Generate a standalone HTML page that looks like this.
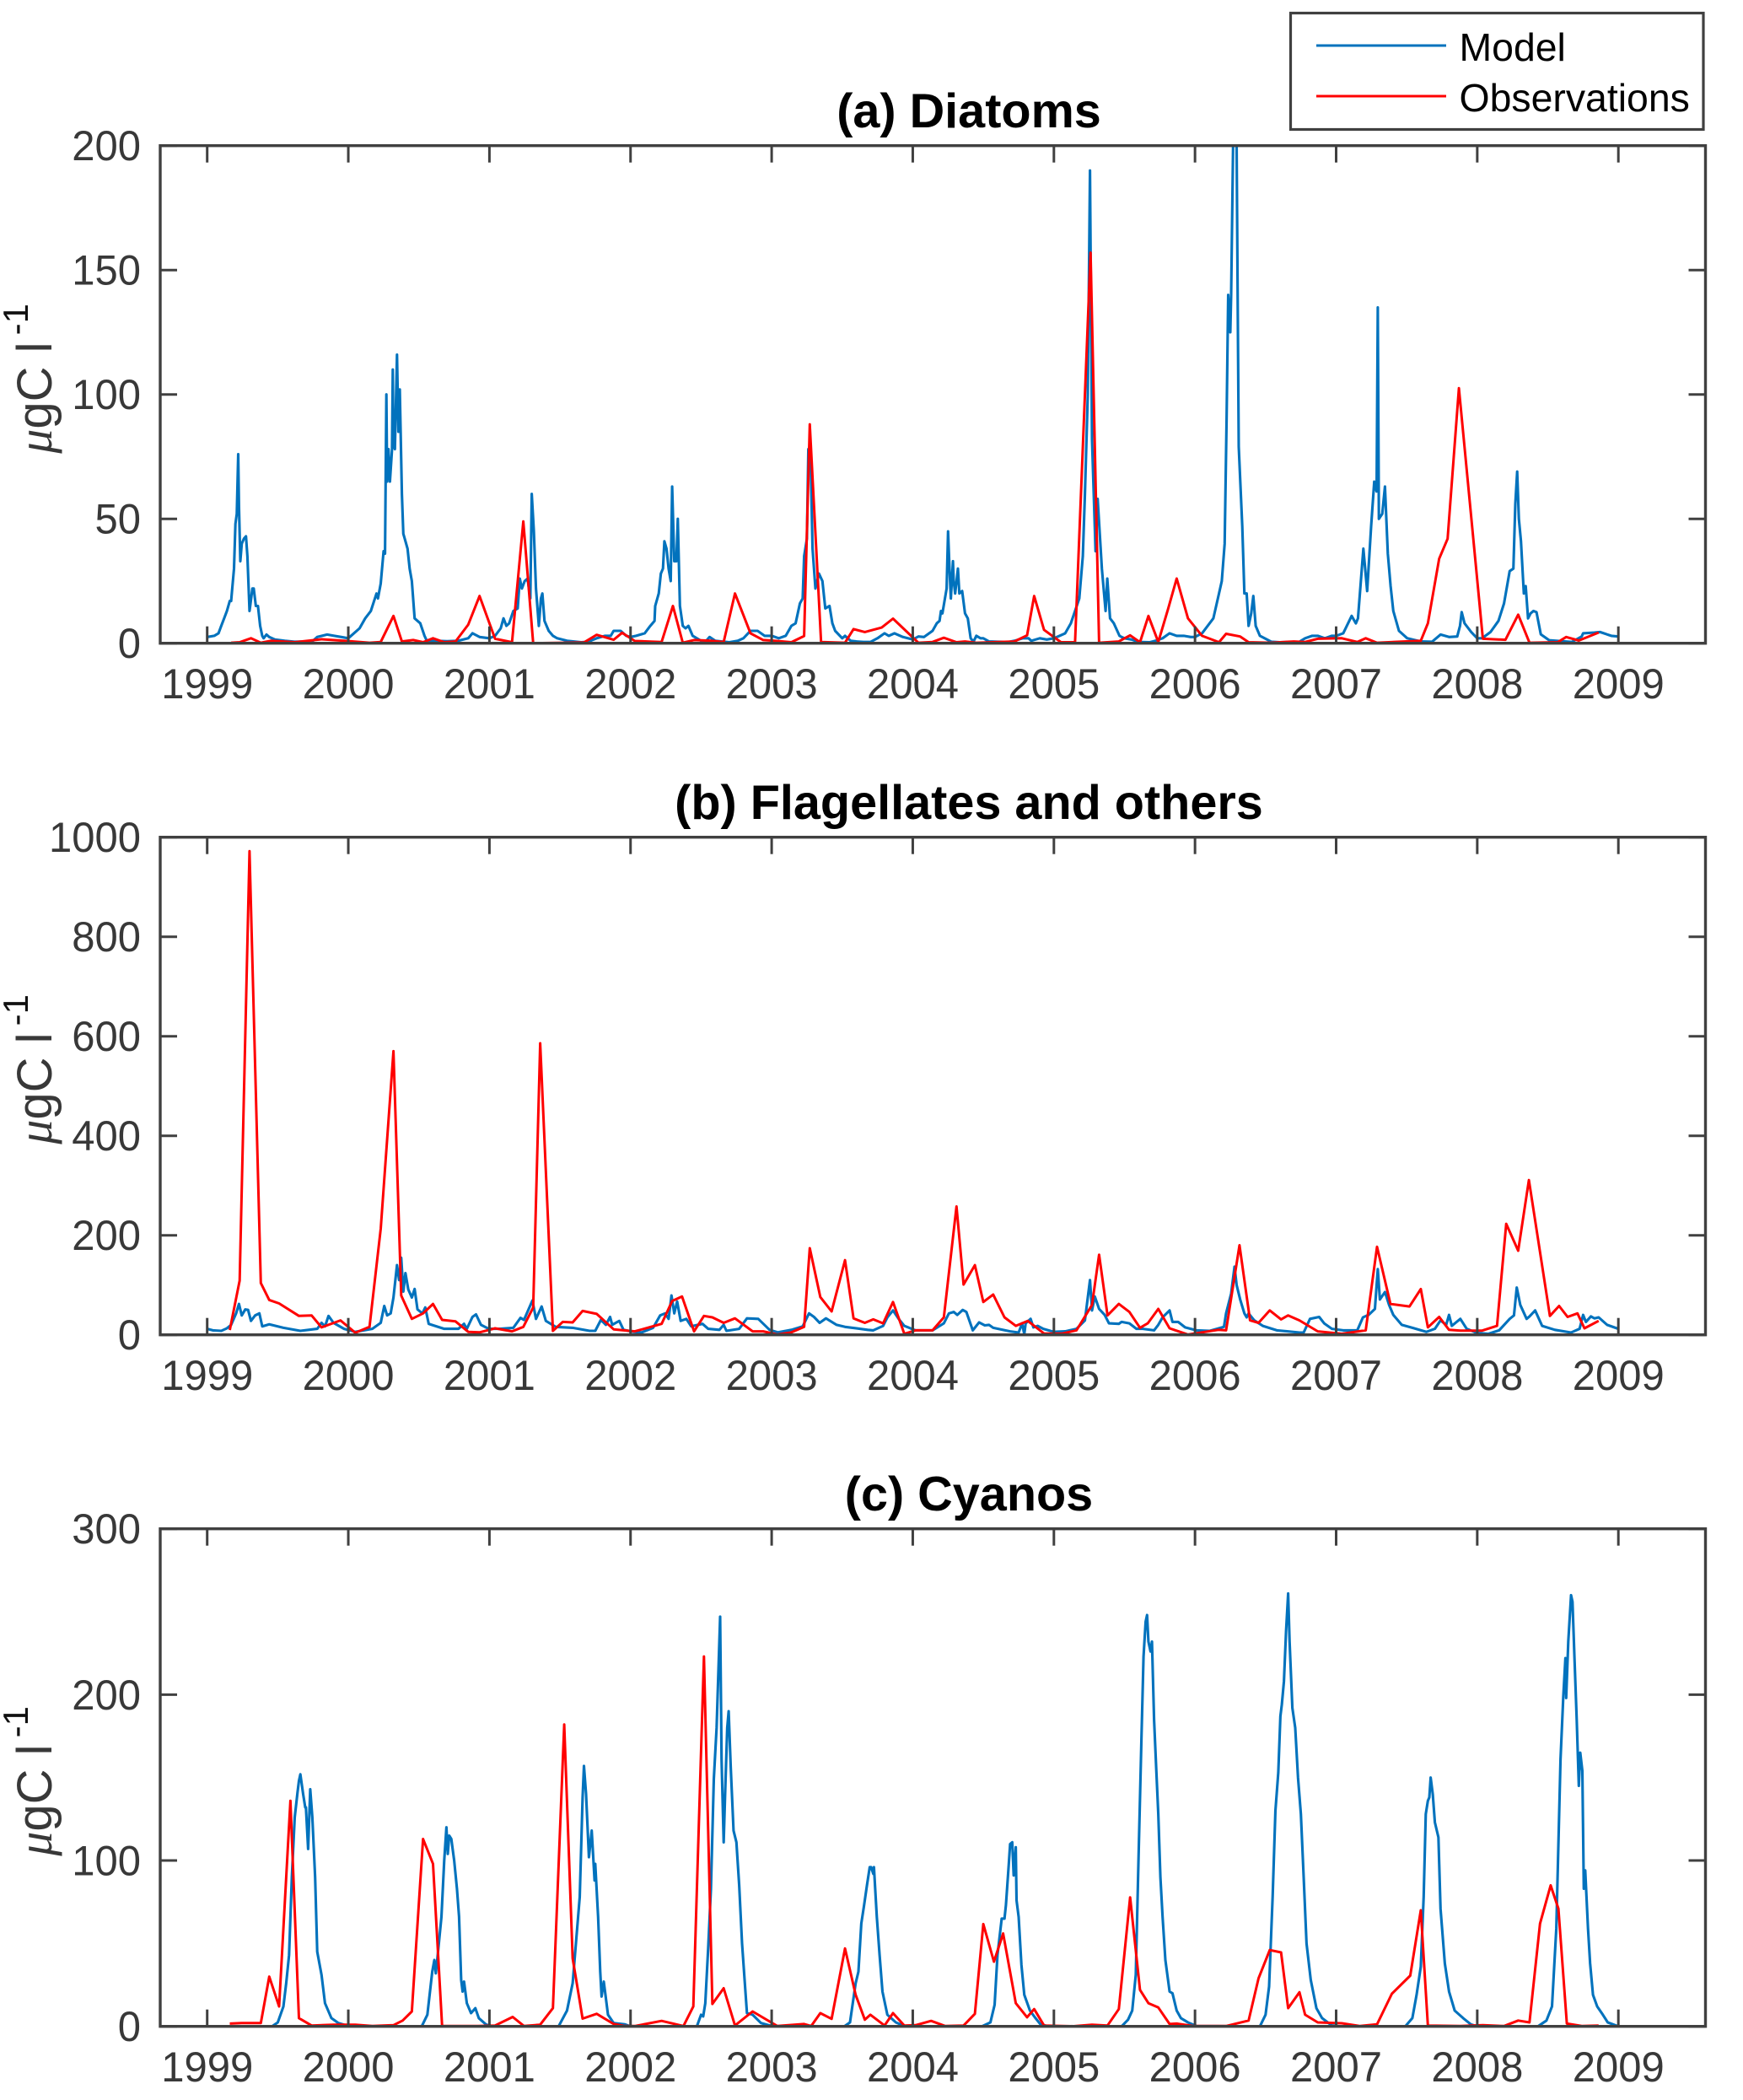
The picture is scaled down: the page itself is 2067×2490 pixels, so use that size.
<!DOCTYPE html>
<html lang="en">
<head>
<meta charset="utf-8">
<title>Diatoms, Flagellates and Cyanos: model vs observations</title>
<style>
html,body{margin:0;padding:0;background:#fff;}
svg{display:block;font-family:"Liberation Sans",Arial,sans-serif;}
</style>
</head>
<body>
<svg id="figure" xmlns="http://www.w3.org/2000/svg" width="2067" height="2490" viewBox="0 0 2067 2490"></svg>
<script>
const yearTicks = [1999,2000,2001,2002,2003,2004,2005,2006,2007,2008,2009];
const diatomsYTicks = [0,50,100,150,200];
const flagellatesYTicks = [0,200,400,600,800,1000];
const cyanosYTicks = [0,100,200,300];

const diatomsModelT = [
1999,1999.05,1999.08,1999.10,1999.12,1999.14,1999.16,1999.17,1999.19,1999.20,1999.21,1999.22,1999.225,1999.235,1999.245,1999.26,1999.275,1999.285,1999.30,1999.305,1999.32,1999.33,1999.345,1999.36,1999.375,1999.39,1999.40,1999.42,1999.44,1999.48,1999.55,1999.62,1999.70,1999.75,1999.78,1999.85,1999.90,1999.95,
2000,2000.04,2000.08,2000.12,2000.16,2000.20,2000.21,2000.23,2000.25,2000.26,2000.27,2000.275,2000.285,2000.295,2000.31,2000.315,2000.32,2000.33,2000.345,2000.355,2000.365,2000.38,2000.39,2000.40,2000.42,2000.435,2000.45,2000.47,2000.49,2000.51,2000.54,2000.56,2000.58,2000.62,2000.70,2000.78,2000.85,2000.88,2000.93,
2001,2001.04,2001.08,2001.10,2001.12,2001.14,2001.17,2001.20,2001.215,2001.23,2001.25,2001.27,2001.29,2001.30,2001.315,2001.33,2001.35,2001.365,2001.375,2001.39,2001.42,2001.45,2001.48,2001.55,2001.65,2001.70,2001.76,2001.82,2001.86,2001.88,2001.93,2001.97,
2002,2002.04,2002.10,2002.14,2002.17,2002.175,2002.20,2002.215,2002.23,2002.24,2002.255,2002.27,2002.285,2002.295,2002.31,2002.325,2002.335,2002.35,2002.37,2002.39,2002.41,2002.44,2002.47,2002.50,2002.53,2002.56,2002.60,2002.70,2002.76,2002.80,2002.85,2002.90,2002.95,
2003,2003.05,2003.10,2003.14,2003.17,2003.20,2003.22,2003.23,2003.25,2003.26,2003.275,2003.29,2003.31,2003.335,2003.36,2003.38,2003.41,2003.43,2003.45,2003.50,2003.52,2003.56,2003.60,2003.65,2003.70,2003.75,2003.80,2003.83,2003.87,2003.93,
2004,2004.04,2004.08,2004.14,2004.17,2004.19,2004.20,2004.21,2004.24,2004.25,2004.26,2004.27,2004.285,2004.29,2004.30,2004.32,2004.33,2004.35,2004.37,2004.39,2004.41,2004.43,2004.45,2004.48,2004.50,2004.54,2004.60,2004.68,2004.72,2004.75,2004.78,2004.82,2004.84,2004.90,2004.95,
2005,2005.04,2005.08,2005.12,2005.15,2005.18,2005.205,2005.22,2005.24,2005.256,2005.27,2005.295,2005.31,2005.34,2005.366,2005.378,2005.398,2005.425,2005.465,2005.48,2005.50,2005.55,2005.60,2005.68,2005.72,2005.77,2005.82,2005.87,2005.92,2005.97,
2006,2006.05,2006.09,2006.13,2006.17,2006.19,2006.21,2006.224,2006.235,2006.25,2006.256,2006.27,2006.283,2006.295,2006.303,2006.31,2006.335,2006.35,2006.366,2006.38,2006.398,2006.413,2006.43,2006.46,2006.54,2006.60,2006.66,2006.74,2006.78,2006.83,2006.87,2006.92,2006.97,
2007,2007.05,2007.11,2007.14,2007.155,2007.193,2007.22,2007.248,2007.27,2007.287,2007.295,2007.303,2007.327,2007.346,2007.366,2007.386,2007.405,2007.445,2007.504,2007.60,2007.68,2007.74,2007.80,2007.858,2007.878,2007.89,2007.91,2007.957,
2008,2008.035,2008.094,2008.15,2008.19,2008.23,2008.256,2008.27,2008.283,2008.295,2008.31,2008.33,2008.343,2008.36,2008.378,2008.398,2008.42,2008.45,2008.51,2008.67,2008.74,2008.75,2008.83,2008.87,2008.95,2009
];
const diatomsModelV = [
2.5,3,4,7,10,13,17,17,30,48,52,76,55,33,40,42,43,35,13,15,22,22,15,15,7,3,2,3.5,2.5,1.5,1,.6,.7,1,2.5,3.5,3,2.5,
2,4,6,10,13,20,18,24,37,36,100,65,78,65,78,110,80,78,116,85,102,60,44,42,38,30,25,10,9,8,3,.5,1,1,.8,1,2,4,2.5,
2,3,6,10,7,8,13,14,26,22,25,26,18,60,45,22,7,18,20,9,5,3,2,1,.4,.6,2,3,3,5,5,3,
2.5,3,4,7,9,15,20,28,30,41,38,30,25,63,33,33,50,15,7,6,7,3,2,1,.5,2.5,1,.4,1,2,5,5,3,
3,2,3,7,8,16,18,35,42,78,78,38,22,28,25,14,15,8,5,2,3,1,.7,.5,.5,2,4,3,4,2.5,
1.5,2.7,2.5,5,8,9,13,12,22,45,30,18,33,25,20,30,20,21,12,10,2,.6,3,2,2,.7,.6,.5,1,1.5,2,2,1,2,1.5,
2,3,4,8,13,18,35,60,100,190,82,37,58,30,13,26,10,8,3,2.5,2,1.5,.5,.4,1,2,4,3,3,2.5,
2.5,4,7,10,20,25,40,90,140,125,140,200,225,200,131,79,47,20,20,7,12,19,7,3,.6,.4,.5,.6,2,3,3,2,3,
3,4,11,8,10,38,21,47,65,61,135,50,52,63,36,23,13,5,2,.7,.6,3.5,2.5,2.7,7,12.5,8,4.5,
2,2,4.5,9,16,29,30,56,69,50,41,20,23,10,12,13,12.5,3.6,1.2,.5,2.7,4,4.3,4.5,3,2.7
];
const diatomsObsT = [
1999.17,1999.23,1999.31,1999.38,1999.45,1999.62,1999.81,1999.97,2000.15,2000.23,2000.32,2000.38,2000.46,2000.53,2000.60,2000.68,2000.76,2000.85,2000.93,2001.04,2001.16,2001.24,2001.31,2001.67,2001.76,2001.88,2001.94,2002.03,2002.22,2002.30,2002.37,2002.45,2002.57,2002.66,2002.74,2002.85,2002.94,2003.02,2003.14,2003.23,2003.27,2003.35,2003.52,2003.58,2003.66,2003.78,2003.86,
2004.04,2004.14,2004.22,2004.31,2004.37,2004.45,2004.72,2004.81,2004.86,2004.93,2005.05,2005.15,2005.26,2005.32,2005.46,2005.54,2005.61,2005.67,2005.74,2005.81,2005.87,2005.95,2006.05,2006.17,2006.22,2006.32,2006.38,2006.54,2006.70,2006.78,2006.87,2007.04,2007.15,2007.21,2007.29,2007.60,2007.65,2007.73,2007.79,2007.87,2008.04,2008.20,2008.29,2008.37,2008.57,2008.63,2008.72,2008.86
];
const diatomsObsV = [
.2,.4,2,.2,1,.4,1.6,1,.2,.5,11,.7,1.3,.4,2,.4,.7,7.5,19,1.8,.4,49,0,.3,3.4,1.4,4.2,.9,.5,15,.2,1.3,1,.5,20,4,1.3,1,.4,2.9,88,.5,.2,5.7,4.5,6.3,9.9,
.2,.5,2.2,.4,.7,.2,.7,3.2,19,5.4,.4,.4,157,.2,.7,3.2,.4,11,.5,14,26,10,3,.4,3.8,2.7,.4,.2,.7,.5,1.8,2,.5,2,.2,1,8,34,42,102.5,1.8,1.4,11.5,.2,.4,2.5,1.1,4.3
];

const flagellatesModelT = [
1999,1999.04,1999.10,1999.14,1999.17,1999.205,1999.225,1999.245,1999.27,1999.29,1999.31,1999.34,1999.37,1999.39,1999.44,1999.54,1999.66,1999.78,1999.81,1999.835,1999.86,1999.895,1999.97,
2000.05,2000.17,2000.23,2000.255,2000.275,2000.30,2000.32,2000.345,2000.36,2000.375,2000.39,2000.405,2000.425,2000.45,2000.47,2000.49,2000.525,2000.545,2000.57,2000.68,2000.78,2000.82,2000.84,2000.88,2000.905,2000.94,2000.995,
2001.075,2001.17,2001.22,2001.245,2001.305,2001.33,2001.37,2001.40,2001.47,2001.59,2001.71,2001.75,2001.79,2001.825,2001.855,2001.87,2001.92,2001.95,2002.02,
2002.08,2002.16,2002.21,2002.245,2002.27,2002.29,2002.31,2002.33,2002.355,2002.395,2002.43,2002.51,2002.55,2002.63,2002.66,2002.68,2002.77,2002.825,2002.905,2002.985,
2003.045,2003.14,2003.22,2003.265,2003.30,2003.34,2003.385,2003.46,2003.52,2003.68,2003.72,2003.79,2003.82,2003.86,2003.90,2003.94,
2004.02,2004.14,2004.22,2004.256,2004.29,2004.315,2004.354,2004.38,2004.425,2004.47,2004.51,2004.54,2004.57,2004.69,2004.75,2004.775,2004.79,2004.80,2004.835,2004.855,2004.885,2004.925,2005.0,
2005.08,2005.16,2005.22,2005.256,2005.27,2005.29,2005.32,2005.36,2005.39,2005.46,2005.48,2005.535,2005.585,2005.63,2005.71,2005.74,2005.77,2005.82,2005.84,2005.88,2005.93,2006.01,
2006.105,2006.205,2006.22,2006.256,2006.28,2006.295,2006.32,2006.35,2006.366,2006.38,2006.42,2006.48,2006.58,2006.74,2006.77,2006.815,2006.88,2006.915,2006.97,2007.05,
2007.15,2007.19,2007.23,2007.275,2007.295,2007.31,2007.346,2007.375,2007.405,2007.465,2007.54,2007.64,2007.70,2007.74,2007.78,2007.80,2007.82,2007.88,2007.925,2008.0,
2008.08,2008.155,2008.23,2008.26,2008.28,2008.305,2008.35,2008.37,2008.41,2008.46,2008.55,2008.665,2008.725,2008.75,2008.77,2008.805,2008.83,2008.86,2008.92,2009
];
const flagellatesModelV = [
12,9,8,13,20,43,62,39,51,50,28,39,43,17,21,14,8,12,24,17,38,24,12,
6,12,24,58,39,43,75,140,110,155,87,124,91,75,92,51,43,55,22,12,12,22,12,36,41,20,12,
12,14,34,30,69,32,57,28,16,14,8,8,30,20,36,20,28,10,6,
5,14,39,43,32,79,43,67,28,32,17,22,12,10,20,8,12,33,32,10,
5,10,17,43,36,24,33,20,16,10,9,18,35,49,32,18,
9,9,23,43,46,40,50,46,9,25,19,20,14,7,4.5,23,1,23,32,15,18,12,6,
7,12,29,110,49,77,52,40,23,22,26,23,12,12,9,20,35,49,26,26,15,9,
8,16,43,83,137,100,71,43,35,43,29,18,9,4.5,4.5,32,36,23,12,9,
9,35,40,52,132,71,86,60,40,20,14,6,12,29,20,40,18,32,12,3.5,
2,9,32,39,95,60,32,37,49,18,10,4.5,12,40,26,37,33,35,20,12
];
const flagellatesObsT = [
1999.16,1999.23,1999.30,1999.38,1999.44,1999.51,1999.65,1999.74,1999.81,1999.945,2000.05,2000.15,2000.23,2000.32,2000.375,2000.45,2000.53,2000.60,2000.665,2000.76,2000.85,2000.93,2001.04,2001.16,2001.24,2001.31,2001.36,2001.45,2001.52,2001.59,2001.66,2001.76,2001.88,2002.03,2002.22,2002.295,2002.365,2002.45,2002.52,2002.58,2002.66,2002.74,2002.865,2002.94,2003.04,2003.14,2003.23,2003.27,2003.345,2003.425,2003.52,2003.58,2003.66,
2003.72,2003.79,2003.86,2003.94,2004.02,2004.14,2004.22,2004.31,2004.36,2004.44,2004.50,2004.57,2004.65,2004.73,2004.815,2004.93,2005.06,2005.16,2005.27,2005.32,2005.38,2005.46,2005.535,2005.61,2005.665,2005.74,2005.82,2005.95,2006.165,2006.22,2006.315,2006.39,2006.45,2006.53,2006.61,2006.66,2006.74,2006.87,2007.04,2007.21,2007.29,2007.385,2007.52,2007.60,2007.65,2007.73,2007.80,2007.88,2008.035,2008.14,2008.205,2008.29,2008.366,2008.515,2008.58,2008.64,2008.71,2008.76,2008.86
];
const flagellatesObsV = [
9.5,109,972,104,70,63,38,39,15,29,4,16,213,570,79,32,43,62,30,27,6,5,13,7,16,55,586,8,26,25,48,42,11,7,22,68,77,7,38,35,24,33,7,7,.5,5,16,174,76,47,150,33,24,
31,23,66,2,9,9,35,258,101,140,66,81,35,18,28,2.5,2.5,9,60,161,39,62,46,14,23,52,13,.5,10,9,180,29,24,49,31,39,29,7,2,9,177,62,57,92,15,36,10,8.5,8.5,18,223,169,311,38,58,36,43,13,28
];

const cyanosModelT = [
1999,1999.46,1999.50,1999.54,1999.56,1999.58,1999.60,1999.62,1999.64,1999.65,1999.66,1999.68,1999.695,1999.70,1999.715,1999.73,1999.745,1999.765,1999.78,1999.81,1999.835,1999.88,1999.93,1999.99,
2000.21,2000.52,2000.56,2000.595,2000.61,2000.62,2000.63,2000.66,2000.68,2000.695,2000.705,2000.715,2000.73,2000.75,2000.77,2000.785,2000.80,2000.81,2000.82,2000.84,2000.87,2000.90,2000.925,2000.975,2001.015,
2001.49,2001.55,2001.59,2001.615,2001.64,2001.66,2001.67,2001.685,2001.705,2001.725,2001.745,2001.75,2001.77,2001.785,2001.795,2001.81,2001.84,2001.88,2001.96,2002.0,
2002.47,2002.50,2002.515,2002.53,2002.55,2002.57,2002.59,2002.61,2002.635,2002.645,2002.66,2002.67,2002.685,2002.695,2002.71,2002.73,2002.75,2002.77,2002.79,2002.81,2002.825,2002.865,2002.925,2003.0,
2003.515,2003.555,2003.595,2003.615,2003.635,2003.655,2003.675,2003.695,2003.705,2003.72,2003.725,2003.745,2003.765,2003.785,2003.82,2003.88,2003.94,2003.98,
2004.49,2004.55,2004.58,2004.60,2004.63,2004.65,2004.66,2004.68,2004.69,2004.705,2004.715,2004.73,2004.735,2004.75,2004.77,2004.79,2004.83,2004.87,2004.905,2004.965,
2005.48,2005.525,2005.555,2005.58,2005.60,2005.62,2005.635,2005.65,2005.66,2005.67,2005.685,2005.695,2005.71,2005.725,2005.74,2005.755,2005.77,2005.79,2005.82,2005.84,2005.87,2005.90,2005.95,2006.01,
2006.46,2006.50,2006.525,2006.55,2006.57,2006.59,2006.605,2006.615,2006.63,2006.645,2006.66,2006.67,2006.69,2006.71,2006.73,2006.75,2006.77,2006.79,2006.82,2006.86,2006.90,2006.97,2007.03,
2007.49,2007.54,2007.57,2007.60,2007.62,2007.635,2007.65,2007.66,2007.67,2007.685,2007.70,2007.725,2007.74,2007.77,2007.80,2007.84,2007.90,2007.955,2008.0,
2008.43,2008.49,2008.53,2008.56,2008.59,2008.61,2008.625,2008.63,2008.645,2008.665,2008.675,2008.69,2008.705,2008.72,2008.73,2008.745,2008.755,2008.765,2008.785,2008.80,2008.82,2008.85,2008.89,2008.925,2009
];
const cyanosModelV = [
0,0,2.4,12,26,43,90,126,141,148,152,140,132,132,107,143,126,90,45,31,14,5,2,.5,
0,0,7,33,40,32,40,66,100,120,104,115,113,100,83,66,28,21,27,14,8,11,5,1.2,0,
0,9.5,26,52,78,138,157,140,102,118,88,98,66,33,18,27,7,2,1.2,0,
0,7,6,14,47,83,149,180,247,161,111,140,180,190,156,118,111,85,50,26,8,7,2,.2,
0,2.4,26,33,62,73,85,96,96,92,96,66,43,21,7,2.4,.2,0,
0,2.4,13,43,65,65,73,97,110,111,91,108,76,66,37,19,9.5,5,1.2,0,
0,4,9.5,31,102,173,223,244,248,232,226,232,185,156,128,90,66,40,21,20,9.5,5,2.4,.2,
0,7,24,78,130,153,187,194,208,238,261,232,192,180,150,128,90,50,28,11,5,.5,0,
0,5,19,36,78,128,136,138,150,140,123,114,71,38,21,9.5,5,1.2,0,
0,3.5,12,59,161,199,222,198,232,260,256,220,185,145,165,154,83,94,59,38,19,12,7,2.4,0
];
const cyanosObsT = [
1999.16,1999.245,1999.38,1999.44,1999.51,1999.59,1999.65,1999.74,1999.895,2000.05,2000.17,2000.32,2000.385,2000.45,2000.53,2000.60,2000.665,2000.92,2001.04,2001.165,2001.245,2001.36,2001.45,2001.53,2001.59,2001.66,2001.76,2001.88,2001.96,2002.03,2002.22,2002.375,2002.445,2002.52,2002.58,2002.66,2002.74,2002.865,2003.04,2003.23,2003.28,2003.345,2003.425,2003.52,2003.595,2003.66,
2003.70,2003.80,2003.86,2003.94,2004.02,2004.13,2004.23,2004.36,2004.44,2004.50,2004.575,2004.64,2004.73,2004.81,2004.86,2004.93,2005.14,2005.27,2005.38,2005.46,2005.54,2005.61,2005.67,2005.74,2005.82,2005.87,2005.99,2006.22,2006.38,2006.45,2006.53,2006.61,2006.66,2006.74,2006.78,2006.87,2007.04,2007.17,2007.29,2007.395,2007.525,2007.60,2007.65,2007.88,2008.04,2008.19,2008.29,2008.37,2008.445,2008.52,2008.575,2008.635,2008.745,2008.86
];
const cyanosObsV = [
1.7,2,2,30,12,136,5,.5,1,1,.2,.7,3.5,9,113,98,.2,.2,.5,5.7,.2,1,11,182,41,4.7,7.6,1.4,.2,.2,3.3,.2,12,223,13.5,23,.5,9,.2,1.4,.2,8,4.5,47,19,4,
7,.5,8,.5,.7,3.3,.2,.5,7.6,61.7,39,56,14,5.5,10.4,.5,.1,1,.5,10.4,77.8,22,14,11.4,1.4,1.7,.2,.2,3.5,29,46,44.6,11,20.6,7,2.4,1.9,.2,1.2,19.7,30.6,70,.5,.2,.7,.2,3.5,2.4,62,85,71,1.7,.2,.5
];

const NS = 'http://www.w3.org/2000/svg';
const svg = document.getElementById('figure');
const AXIS = '#404040';
const TEXT = '#383838';
const LEFT = 190, RIGHT = 2022.5, PANEL_H = 590;

function xOf(t) { return 245.7 + (t - 1999) * 167.35; }

function make(tag, attrs, parent) {
  const el = document.createElementNS(NS, tag);
  for (const k in attrs) el.setAttribute(k, attrs[k]);
  parent.appendChild(el);
  return el;
}

function pathFrom(ts, vs, yOf) {
  const n = Math.min(ts.length, vs.length);
  let d = '';
  for (let i = 0; i < n; i++) {
    d += (i ? 'L' : 'M') + xOf(ts[i]).toFixed(1) + ' ' + yOf(vs[i]).toFixed(1);
  }
  return d;
}

function drawPanel(key, top, yMax, yTicks, title, modelT, modelV, obsT, obsV, labelOffset) {
  const bottom = top + PANEL_H;
  const yOf = v => bottom - (v / yMax) * PANEL_H;

  const g = make('g', {}, svg);
  
  

  const clip = make('clipPath', { id: 'clip-' + key }, g);
  make('rect', { x: LEFT, y: top, width: RIGHT - LEFT, height: PANEL_H }, clip);

  const model = make('path', { d: pathFrom(modelT, modelV, yOf), fill: 'none', stroke: '#0072BD', 'stroke-width': 3.1, 'stroke-linejoin': 'round', 'clip-path': 'url(#clip-' + key + ')' }, g);
  
  

  const obs = make('path', { d: pathFrom(obsT, obsV, yOf), fill: 'none', stroke: '#FF0000', 'stroke-width': 3, 'stroke-linejoin': 'round', 'clip-path': 'url(#clip-' + key + ')' }, g);
  
  

  const box = make('rect', { x: LEFT, y: top, width: RIGHT - LEFT, height: PANEL_H, fill: 'none', stroke: AXIS, 'stroke-width': 3.4 }, g);
  
  

  yearTicks.forEach(yr => {
    const x = xOf(yr);
    const t1 = make('line', { x1: x, x2: x, y1: bottom, y2: bottom - 20, stroke: AXIS, 'stroke-width': 3 }, g);
    
    
    const t2 = make('line', { x1: x, x2: x, y1: top, y2: top + 20, stroke: AXIS, 'stroke-width': 3 }, g);
    
    
    const lab = make('text', { transform: 'translate(' + x + ',' + (bottom + 65.5) + ') scale(.97,1)', 'text-anchor': 'middle', 'font-size': 50.5, fill: TEXT }, g);
    lab.textContent = yr;
    
    
  });

  yTicks.forEach(v => {
    const y = yOf(v);
    const t1 = make('line', { x1: LEFT, x2: LEFT + 20, y1: y, y2: y, stroke: AXIS, 'stroke-width': 3 }, g);
    
    
    const t2 = make('line', { x1: RIGHT, x2: RIGHT - 20, y1: y, y2: y, stroke: AXIS, 'stroke-width': 3 }, g);
    
    
    const lab = make('text', { transform: 'translate(167,' + (y + 17.5) + ') scale(.97,1)', 'text-anchor': 'end', 'font-size': 50.5, fill: TEXT }, g);
    lab.textContent = v;
    
    
  });

  const tt = make('text', { x: 1149, y: top - 21.5, 'text-anchor': 'middle', 'font-size': 57.6, 'font-weight': 'bold', fill: '#000' }, g);
  tt.textContent = title;
  
  

  const yl = make('text', { transform: 'translate(61,' + (top + labelOffset) + ') rotate(-90)', 'font-size': 58, fill: TEXT }, g);
  
  
  const mu = make('tspan', { 'font-family': '"Liberation Serif",serif', 'font-style': 'italic' }, yl);
  mu.textContent = 'μ';
  const unit = make('tspan', {}, yl);
  unit.textContent = 'gC l';
  const sup = make('tspan', { dx: 8, dy: -28, 'font-size': 42, fill: '#111' }, yl);
  sup.textContent = '-1';
}

drawPanel('diatoms', 172.7, 200, diatomsYTicks, '(a) Diatoms', diatomsModelT, diatomsModelV, diatomsObsT, diatomsObsV, 365);
drawPanel('flagellates', 992.7, 1000, flagellatesYTicks, '(b) Flagellates and others', flagellatesModelT, flagellatesModelV, flagellatesObsT, flagellatesObsV, 364);
drawPanel('cyanos', 1812.7, 300, cyanosYTicks, '(c) Cyanos', cyanosModelT, cyanosModelV, cyanosObsT, cyanosObsV, 388);

const legend = make('g', {}, svg);


const legendBox = make('rect', { x: 1530.5, y: 15.5, width: 489.5, height: 138, fill: '#fff', stroke: AXIS, 'stroke-width': 3.2 }, legend);


const legendModelLine = make('line', { x1: 1561, x2: 1715, y1: 54, y2: 54, stroke: '#0072BD', 'stroke-width': 3.1 }, legend);


const legendModelText = make('text', { x: 1730.5, y: 72, 'font-size': 46.4, fill: '#000' }, legend);
legendModelText.textContent = 'Model';


const legendObsLine = make('line', { x1: 1561, x2: 1715, y1: 114, y2: 114, stroke: '#FF0000', 'stroke-width': 3 }, legend);


const legendObsText = make('text', { x: 1730.5, y: 132, 'font-size': 46.4, fill: '#000' }, legend);
legendObsText.textContent = 'Observations';


</script>
</body>
</html>
